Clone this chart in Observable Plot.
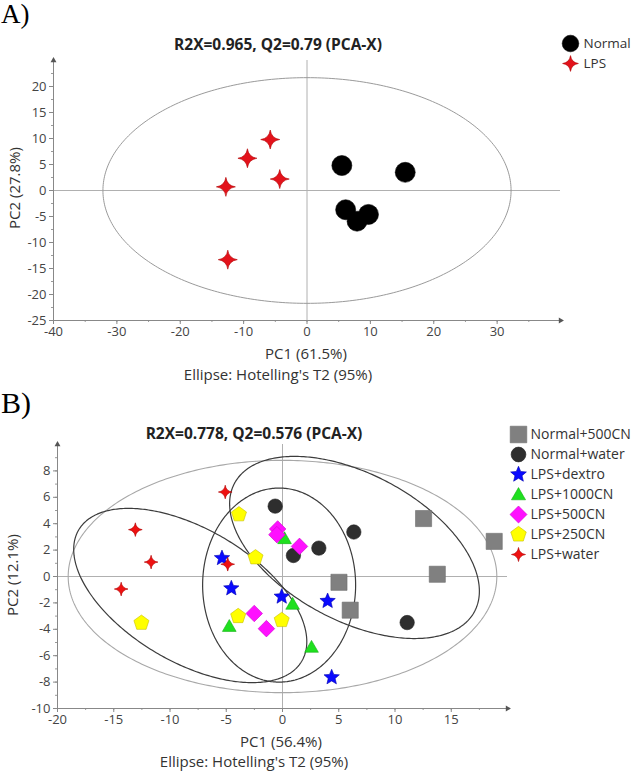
<!DOCTYPE html>
<html><head><meta charset="utf-8">
<script src="https://cdn.jsdelivr.net/npm/d3@7"></script>
<script src="https://cdn.jsdelivr.net/npm/@observablehq/plot@0.6"></script>
<style>
body{margin:0;background:#fff;}
#root{position:relative;width:634px;height:773px;overflow:hidden;font-family:"Open Sans",sans-serif;background:#fff;}
.abs{position:absolute;white-space:nowrap;line-height:1.2;}
.lbl{font-family:"Liberation Serif","Times New Roman",serif;color:#000;line-height:1;}
.title{font-weight:bold;font-size:15.5px;color:#222;transform:translate(-50%,-50%);}
.axt{font-size:15px;line-height:1;color:#333;transform:translate(-50%,-50%);}
.rot{transform:translate(-50%,-50%) rotate(-90deg);}
svg{max-width:none !important;}
</style></head><body><div id="root"></div>
<script>
// ---------------- Panel A data ----------------
const groupsA = ["Normal", "LPS"];
const pc1A_normal = [5.5, 15.5, 6.1, 9.7, 7.9];
const pc2A_normal = [4.8, 3.5, -3.7, -4.6, -5.9];
const pc1A_lps = [-5.8, -9.4, -4.3, -12.8, -12.5];
const pc2A_lps = [9.8, 6.2, 2.2, 0.7, -13.3];
const ellA_cx = [0], ellA_cy = [0], ellA_sx = [32.2], ellA_sy = [21.7], ellA_rho = [0];
const xTicksA = [-40, -30, -20, -10, 0, 10, 20, 30];
const yTicksA = [-25, -20, -15, -10, -5, 0, 5, 10, 15, 20];

// ---------------- Panel B data ----------------
const groupsB = ["Normal+500CN", "Normal+water", "LPS+dextro", "LPS+1000CN", "LPS+500CN", "LPS+250CN", "LPS+water"];
const pc1B_normal500 = [12.54, 18.82, 13.76, 5.02, 6.02];
const pc2B_normal500 = [4.39, 2.66, 0.17, -0.44, -2.55];
const pc1B_normalWater = [-0.65, 6.34, 3.23, 0.97, 11.08];
const pc2B_normalWater = [5.33, 3.37, 2.15, 1.59, -3.49];
const pc1B_dextro = [-5.38, -4.55, -0.07, 4.01, 4.37];
const pc2B_dextro = [1.39, -0.90, -1.53, -1.86, -7.64];
const pc1B_1000 = [0.18, 0.90, -4.73, 2.58];
const pc2B_1000 = [2.88, -2.09, -3.77, -5.35];
const pc1B_500 = [-0.43, -0.50, 1.51, -2.51, -1.43];
const pc2B_500 = [3.60, 3.17, 2.28, -2.80, -3.95];
const pc1B_250 = [-3.87, -2.40, -12.54, -3.94, -0.07];
const pc2B_250 = [4.70, 1.44, -3.52, -3.01, -3.31];
const pc1B_water = [-5.09, -13.08, -11.68, -14.34, -4.87];
const pc2B_water = [6.40, 3.55, 1.09, -0.95, 0.93];
const ellB_cx = [0, -8.2, -0.3, 6.4];
const ellB_cy = [0, -1.44, -0.65, 2.2];
const ellB_sx = [19.05, 10.36, 6.8, 11.1];
const ellB_sy = [8.8, 6.6, 7.35, 6.9];
const ellB_rho = [0, -0.53, 0, -0.48];
const xTicksB = [-20, -15, -10, -5, 0, 5, 10, 15];
const yTicksB = [-10, -8, -6, -4, -2, 0, 2, 4, 6, 8];

// ---------------- symbols ----------------
function ring(n, r, rot) { const p = []; for (let k = 0; k < n; k++) { const a = rot + k * 2 * Math.PI / n; p.push([r * Math.sin(a), -r * Math.cos(a)]); } return p; }
function drawPoly(ctx, pts) { ctx.moveTo(pts[0][0], pts[0][1]); for (let i = 1; i < pts.length; i++) ctx.lineTo(pts[i][0], pts[i][1]); ctx.closePath(); }
const R = s => Math.sqrt(s / Math.PI);
const symCircle = {draw(ctx, s) { const r = R(s); ctx.moveTo(r, 0); ctx.arc(0, 0, r, 0, 2 * Math.PI); ctx.closePath(); }};
const symSquare = {draw(ctx, s) { const h = R(s) * 1.12; ctx.rect(-h, -h, 2 * h, 2 * h); }};
const symDiamond = {draw(ctx, s) { drawPoly(ctx, ring(4, R(s) * 1.15, 0)); }};
const symTriangle = {draw(ctx, s) { const r = R(s) * 1.1; drawPoly(ctx, ring(3, r, 0).map(([x, y]) => [x, y + r * 0.15])); }};
const symPentagon = {draw(ctx, s) { drawPoly(ctx, ring(5, R(s) * 1.1, 0)); }};
const symStar5 = {draw(ctx, s) { const ro = R(s) * 1.12, ri = ro * 0.45; const o = ring(5, ro, 0), i = ring(5, ri, Math.PI / 5); const p = []; for (let k = 0; k < 5; k++) { p.push(o[k], i[k]); } drawPoly(ctx, p); }};
const symStar4 = {draw(ctx, s) { const ro = R(s) * 0.95, c = ro * 0.13; ctx.moveTo(0, -ro); ctx.quadraticCurveTo(c, -c, ro, 0); ctx.quadraticCurveTo(c, c, 0, ro); ctx.quadraticCurveTo(-c, c, -ro, 0); ctx.quadraticCurveTo(-c, -c, 0, -ro); ctx.closePath(); }};

// styles per group
const stylesA = [
  {symbol: symCircle, fill: "#000000", stroke: "#000000"},
  {symbol: symStar4, fill: "#e3121b", stroke: "#b00000"}
];
const stylesB = [
  {symbol: symSquare, fill: "#808080", stroke: "#6e6e6e"},
  {symbol: symCircle, fill: "#2e2e2e", stroke: "#222222"},
  {symbol: symStar5, fill: "#0a0aff", stroke: "#0000b0"},
  {symbol: symTriangle, fill: "#1fe01f", stroke: "#14b014"},
  {symbol: symDiamond, fill: "#ff10ff", stroke: "#d000d0"},
  {symbol: symPentagon, fill: "#ffff00", stroke: "#c8c000"},
  {symbol: symStar4, fill: "#ee1111", stroke: "#b00000"}
];

const zip = (xs, ys) => xs.map((x, i) => ({pc1: x, pc2: ys[i]}));
const dataA = [zip(pc1A_normal, pc2A_normal), zip(pc1A_lps, pc2A_lps)];
const dataB = [zip(pc1B_normal500, pc2B_normal500), zip(pc1B_normalWater, pc2B_normalWater), zip(pc1B_dextro, pc2B_dextro),
  zip(pc1B_1000, pc2B_1000), zip(pc1B_500, pc2B_500), zip(pc1B_250, pc2B_250), zip(pc1B_water, pc2B_water)];

function ellipses(cx, cy, sx, sy, rho) {
  const out = [];
  cx.forEach((_, id) => {
    const q = Math.sqrt(1 - rho[id] * rho[id]);
    for (let k = 0; k <= 360; k++) {
      const t = k * Math.PI / 180;
      out.push({id, x: cx[id] + sx[id] * Math.cos(t), y: cy[id] + sy[id] * (rho[id] * Math.cos(t) + q * Math.sin(t))});
    }
  });
  return out;
}

function range(a, b, step) { const r = []; for (let v = a; v <= b + 1e-9; v += step) r.push(+v.toFixed(4)); return r; }

function axes(xd, yd, xMajor, xMinorStep, yMajor, yMinorStep) {
  return [
    Plot.axisY({ticks: range(yd[0], yd[1] - yMinorStep, yMinorStep), tickSize: 2, tickFormat: () => "", label: null, stroke: "#9a9a9a"}),
    Plot.axisX({ticks: range(xd[0], xd[1] - xMinorStep, xMinorStep), tickSize: 2, tickFormat: () => "", label: null, stroke: "#9a9a9a"}),
    Plot.axisY({ticks: yMajor, tickSize: 4, tickPadding: 3, fontSize: 13, label: null, tickFormat: d => String(d), stroke: "#888", fill: "#444"}),
    Plot.axisX({ticks: xMajor, tickSize: 4, tickPadding: 2, fontSize: 13, label: null, tickFormat: d => String(d), stroke: "#888", fill: "#444"}),
    Plot.ruleX([xd[0]], {stroke: "#888", strokeWidth: 1}),
    Plot.ruleY([yd[0]], {stroke: "#888", strokeWidth: 1}),
    Plot.dot([[xd[1], yd[0]]], {x: d => d[0], y: d => d[1], symbol: "triangle", rotate: 90, r: 2.2, fill: "#555", stroke: "none"}),
    Plot.dot([[xd[0], yd[1]]], {x: d => d[0], y: d => d[1], symbol: "triangle", r: 2.2, fill: "#555", stroke: "none"})
  ];
}

function panel(opts) {
  const {data, styles, r, xd, yd, ell, ellStroke, ellWidth, margins, height, xMajor, xMinor, yMajor, yMinor} = opts;
  return Plot.plot({
    width: 634, height,
    marginLeft: margins[0], marginRight: margins[1], marginTop: margins[2], marginBottom: margins[3],
    x: {domain: xd, label: null}, y: {domain: yd, label: null},
    style: {fontFamily: "Open Sans, sans-serif", fontSize: "13px", color: "#444", background: "transparent", overflow: "visible", maxWidth: "none"},
    marks: [
      Plot.ruleY([0], {stroke: "#b0b0b0", strokeWidth: 1}),
      Plot.ruleX([0], {stroke: "#b0b0b0", strokeWidth: 1}),
      Plot.line(ell, {x: "x", y: "y", z: "id", stroke: d => ellStroke[d.id], strokeWidth: d => ellWidth[d.id], curve: "linear"}),
      ...data.map((pts, i) => Plot.dot(pts, {x: "pc1", y: "pc2", symbol: styles[i].symbol, fill: styles[i].fill, stroke: styles[i].stroke, strokeWidth: 0.6, r})),
      ...axes(xd, yd, xMajor, xMinor, yMajor, yMinor)
    ]
  });
}

function legend(groups, styles, r, rowH, fontSize, textDx) {
  return Plot.plot({
    width: 124, height: groups.length * rowH, margin: 0,
    x: {axis: null, domain: [0, 1]},
    y: {axis: null, type: "point", domain: groups, padding: 0.5},
    style: {fontFamily: "Open Sans, sans-serif", background: "transparent", overflow: "visible", maxWidth: "none"},
    marks: [
      ...groups.map((g, i) => Plot.dot([g], {y: d => d, frameAnchor: "left", dx: 9, symbol: styles[i].symbol, fill: styles[i].fill, stroke: styles[i].stroke, strokeWidth: 0.6, r})),
      Plot.text(groups, {y: d => d, frameAnchor: "left", dx: textDx, text: d => d, textAnchor: "start", fontSize, fill: "#333"})
    ]
  });
}

const root = document.getElementById("root");
function place(node, left, top, w) { const d = document.createElement("div"); d.style.position = "absolute"; d.style.left = left + "px"; d.style.top = top + "px"; if (w) d.style.width = w + "px"; d.appendChild(node); root.appendChild(d); }
function txt(t, cls, x, y, style) { const d = document.createElement("div"); d.className = "abs " + cls; d.textContent = t; d.style.left = x + "px"; d.style.top = y + "px"; if (style) Object.assign(d.style, style); root.appendChild(d); }

// Panel A
const ellAData = ellipses(ellA_cx, ellA_cy, ellA_sx, ellA_sy, ellA_rho);
place(panel({data: dataA, styles: stylesA, r: 10, xd: [-40, 40], yd: [-25, 25], ell: ellAData, ellStroke: ["#9a9a9a"], ellWidth: [1],
  margins: [53, 74, 60, 65], height: 385, xMajor: xTicksA, xMinor: 5, yMajor: yTicksA, yMinor: 2.5}), 0, 0, 634);
place(legend(groupsA, stylesA, 8.3, 20, 13.5, 22), 561, 33, 124);

// Panel B
const ellBData = ellipses(ellB_cx, ellB_cy, ellB_sx, ellB_sy, ellB_rho);
place(panel({data: dataB, styles: stylesB, r: 7.2, xd: [-20, 20], yd: [-10, 10], ell: ellBData, ellStroke: ["#a8a8a8", "#3c3c3c", "#3c3c3c", "#3c3c3c"], ellWidth: [1.1, 1.2, 1.2, 1.2],
  margins: [57, 127, 59, 65], height: 388, xMajor: xTicksB, xMinor: 2.5, yMajor: yTicksB, yMinor: 1}), 0, 385, 634);
place(legend(groupsB, stylesB, 7.4, 20.75, 14, 21), 509, 420.6, 124);

// Text
txt("A)", "lbl", 1, 1, {fontSize: "27px"});
txt("B)", "lbl", 1, 388, {fontSize: "30px"});
txt("R2X=0.965, Q2=0.79 (PCA-X)", "title", 278, 44);
txt("R2X=0.778, Q2=0.576 (PCA-X)", "title", 254, 433);
txt("PC2 (27.8%)", "axt rot", 13.5, 188);
txt("PC1 (61.5%)", "axt", 306, 353);
txt("Ellipse: Hotelling's T2 (95%)", "axt", 278, 374);
txt("PC2 (12.1%)", "axt rot", 12, 575);
txt("PC1 (56.4%)", "axt", 281, 741);
txt("Ellipse: Hotelling's T2 (95%)", "axt", 254, 761);
</script></body></html>
